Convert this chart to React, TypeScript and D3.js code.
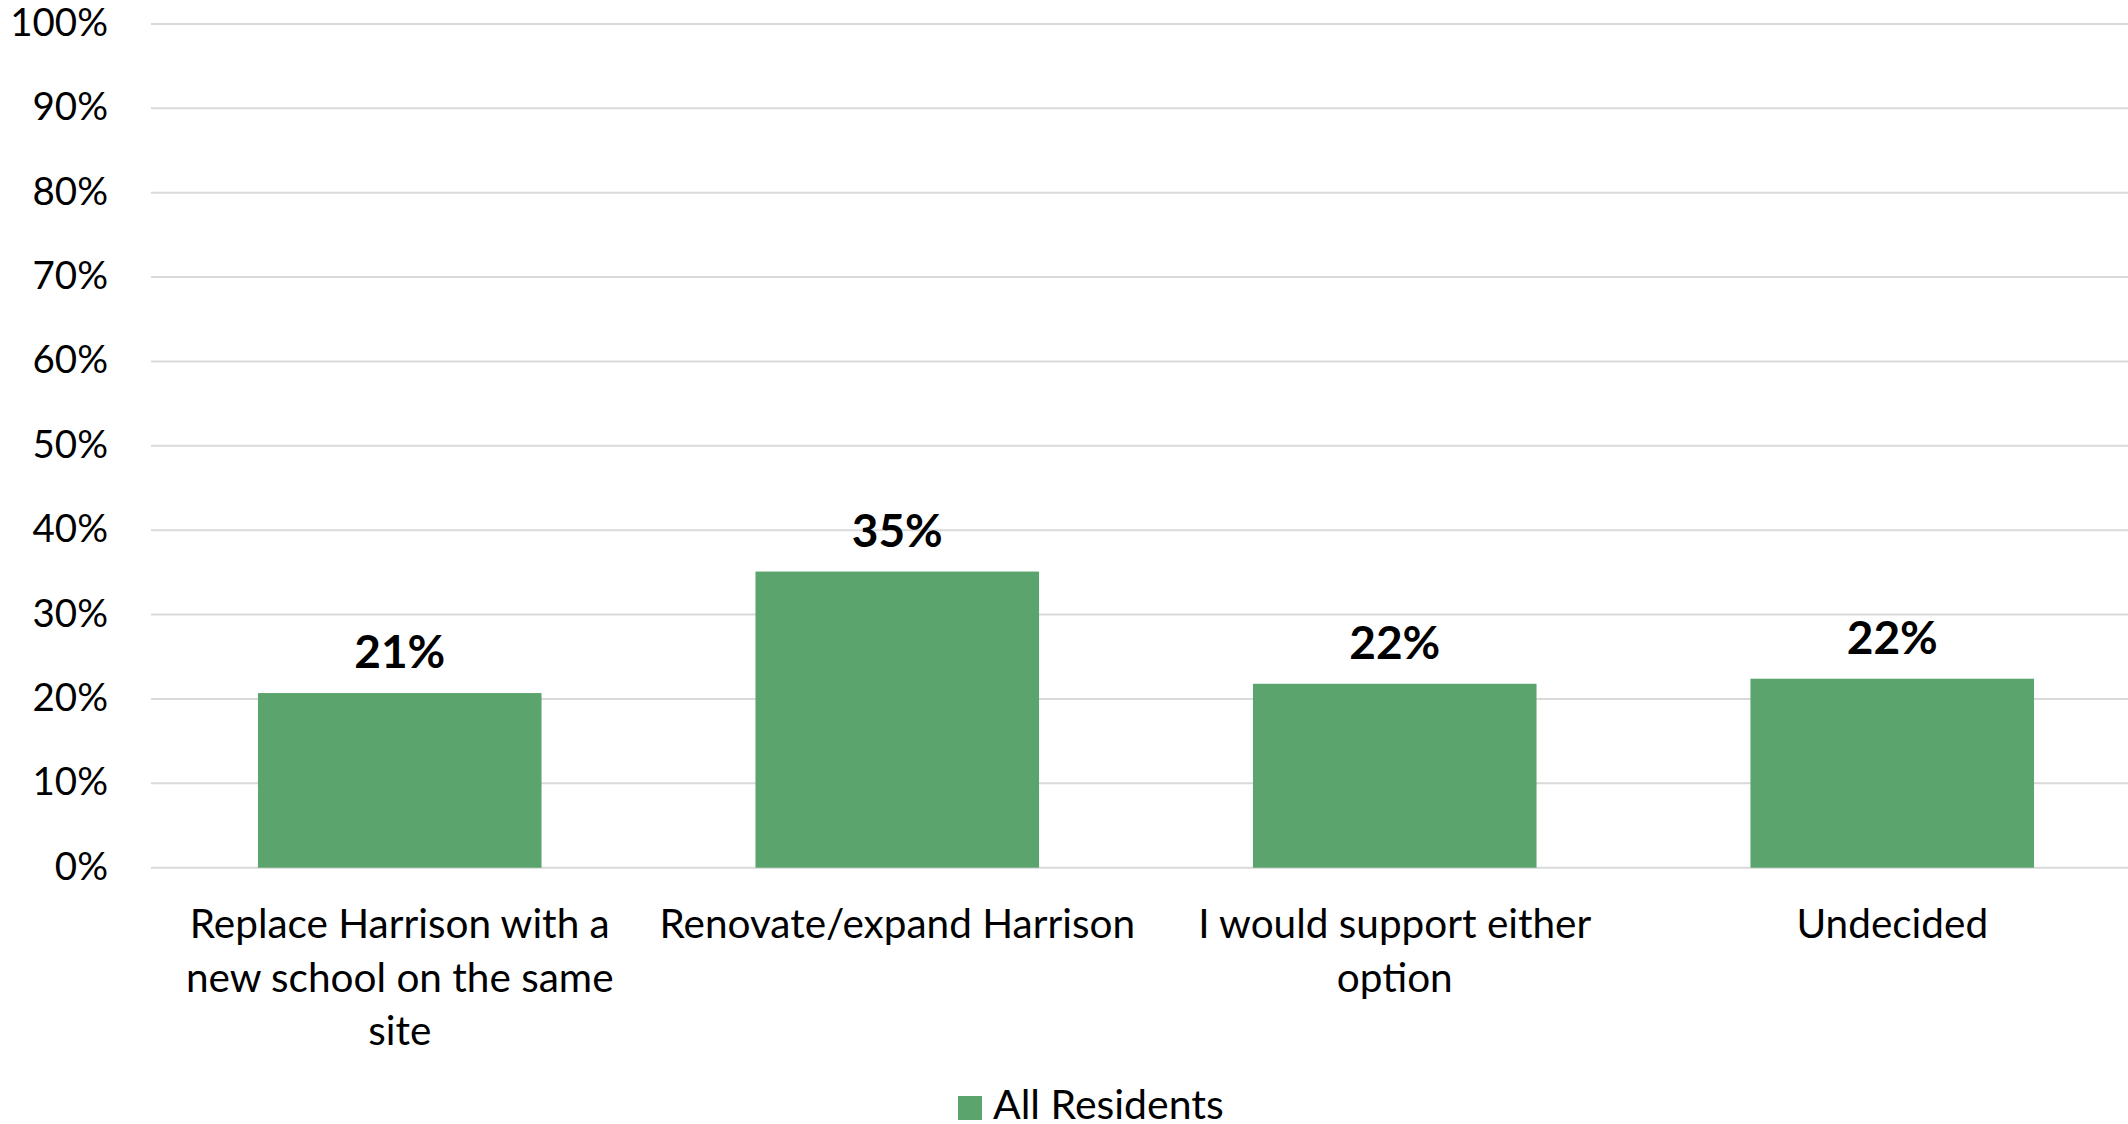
import React, { useEffect } from "react";
import * as d3 from "d3";

const categories: string[][] = [
  ["Replace Harrison with a", "new school on the same", "site"],
  ["Renovate/expand Harrison"],
  ["I would support either", "option"],
  ["Undecided"],
];
const values: number[] = [20.7, 35.1, 21.8, 22.4];
const labels: string[] = ["21%", "35%", "22%", "22%"];
const yTicks: number[] = [0, 10, 20, 30, 40, 50, 60, 70, 80, 90, 100];
const seriesName = "All Residents";

const W = 2128;
const H = 1124;
const FONT = "Lato, 'Noto Sans', sans-serif";
const GREEN = "#5ba46e";

export default function App() {
  useEffect(() => {
    document.body.style.margin = "0";
    document.body.style.overflow = "hidden";
  }, []);
  const left = 151;
  const step = 497.5;
  const top = 24;
  const bottom = 867.7;
  const x = d3
    .scaleBand<number>()
    .domain(d3.range(categories.length))
    .range([left, left + step * categories.length])
    .paddingInner(0.43)
    .paddingOuter(0.215);
  const y = d3.scaleLinear().domain([0, 100]).range([bottom, top]);

  return (
    <svg width={W} height={H} style={{ position: "absolute", left: 0, top: 0, background: "#fff" }}>
      {yTicks.map((t) => (
        <g key={t}>
          <line x1={left} x2={W} y1={y(t)} y2={y(t)} stroke="#d9d9d9" strokeWidth={2} />
          <text x={108} y={y(t) + 12} textAnchor="end" fontFamily={FONT} fontSize={38.5} fill="#000">
            {t}%
          </text>
        </g>
      ))}
      {values.map((v, i) => (
        <g key={i}>
          <rect x={x(i)!} y={y(v)} width={x.bandwidth()} height={y(0) - y(v)} fill={GREEN} />
          <text
            x={x(i)! + x.bandwidth() / 2}
            y={y(v) - 25}
            textAnchor="middle"
            fontFamily={FONT}
            fontWeight="bold"
            fontSize={46}
            fill="#000"
          >
            {labels[i]}
          </text>
          {categories[i].map((ln, j) => (
            <text
              key={j}
              x={x(i)! + x.bandwidth() / 2}
              y={938 + j * 53.5}
              textAnchor="middle"
              fontFamily={FONT}
              fontSize={40.5}
              fill="#000"
            >
              {ln}
            </text>
          ))}
        </g>
      ))}
      <rect x={958} y={1096} width={24} height={24} fill={GREEN} />
      <text x={993} y={1119} fontFamily={FONT} fontSize={41} fill="#000">
        {seriesName}
      </text>
    </svg>
  );
}
